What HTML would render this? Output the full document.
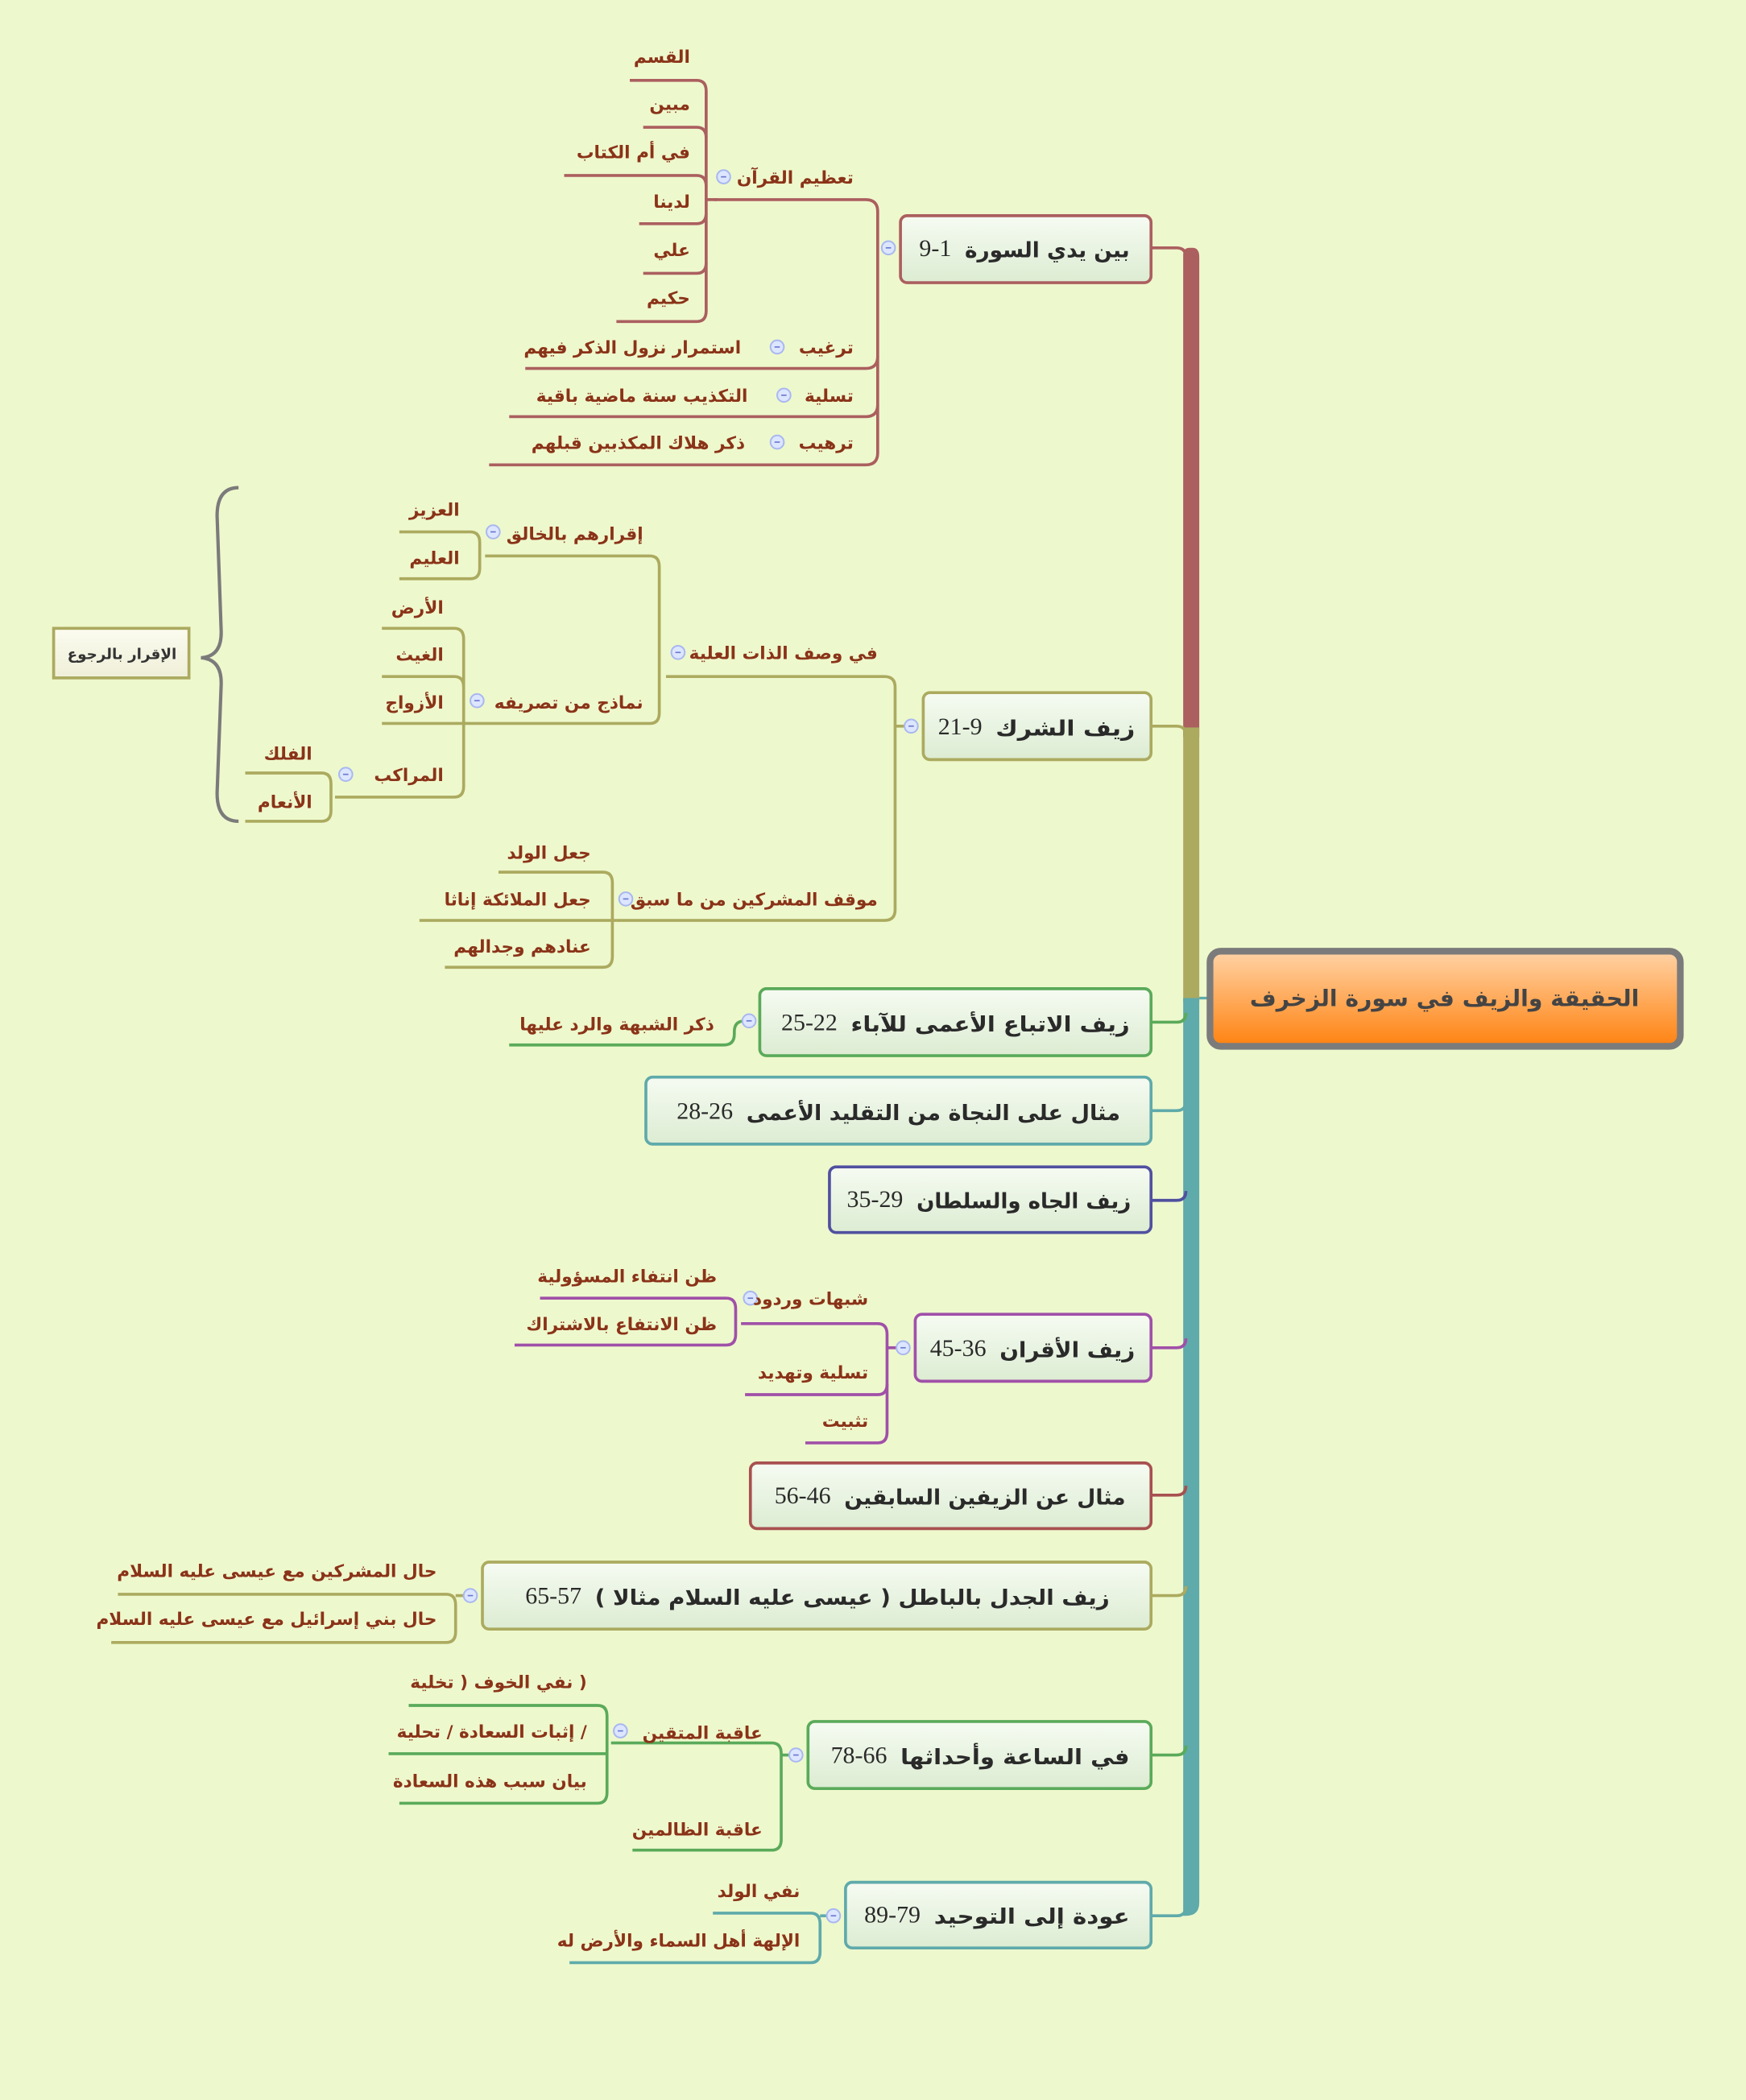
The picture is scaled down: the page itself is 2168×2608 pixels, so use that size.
<!DOCTYPE html>
<html><head><meta charset="utf-8">
<style>
html,body{margin:0;padding:0;background:#eef8cd;}
svg{display:block;}
.s{font-family:"DejaVu Sans","Liberation Sans",sans-serif;font-weight:bold;font-size:13px;fill:#8a3318;}
.m{font-family:"DejaVu Sans","Liberation Sans",sans-serif;font-weight:bold;font-size:16px;fill:#2a2a2a;}
.n{font-family:"Liberation Serif",serif;font-size:18px;fill:#2a2a2a;}
.c{fill:#dde6ff;stroke:#a8b8f0;stroke-width:1.2;}
</style></head>
<body>
<svg width="2168" height="2608" viewBox="0 0 1303 1567.5" xmlns="http://www.w3.org/2000/svg">
<defs>
<linearGradient id="ng" x1="0" y1="0" x2="0" y2="1"><stop offset="0" stop-color="#f6fbf2"/><stop offset="1" stop-color="#dcecd2"/></linearGradient>
<linearGradient id="og" x1="0" y1="0" x2="0" y2="1"><stop offset="0" stop-color="#ffd3a6"/><stop offset="1" stop-color="#ff8210"/></linearGradient>
<linearGradient id="bg2" x1="0" y1="0" x2="0" y2="1"><stop offset="0" stop-color="#fbfbf0"/><stop offset="1" stop-color="#efefd8"/></linearGradient>
</defs>
<rect width="1303" height="1568" fill="#eef8cd"/>

<!-- trunk -->
<path d="M883,190 Q883,185 888,185 L890,185 Q895,185 895,192 L895,550 L883,550 Z" fill="#ab5f5f"/>
<rect x="883" y="543" width="12" height="205" fill="#abaa5f"/>
<path d="M883,745 L895,745 L895,1420 Q895,1430 885,1430 L883,1430 Z" fill="#5faaaa"/>
<line x1="895" y1="745" x2="903" y2="745" stroke="#5faaaa" stroke-width="2"/>
<g fill="none" stroke-width="2.2">
<path d="M859,185 H878 Q885,185 885,192" stroke="#ab5f5f"/>
<path d="M859,542 H878 Q885,542 885,549" stroke="#abaa5f"/>
<path d="M859,763 H878 Q885,763 885,756" stroke="#5aaa5a"/>
<path d="M859,829 H878 Q885,829 885,822" stroke="#5faaaa"/>
<path d="M859,896 H878 Q885,896 885,889" stroke="#5050a0"/>
<path d="M859,1006 H878 Q885,1006 885,999" stroke="#a050a8"/>
<path d="M859,1116 H878 Q885,1116 885,1109" stroke="#a85050"/>
<path d="M859,1191 H878 Q885,1191 885,1184" stroke="#abaa5f"/>
<path d="M859,1310 H878 Q885,1310 885,1303" stroke="#5aaa5a"/>
<path d="M859,1430 H878 Q885,1430 885,1423" stroke="#5faaaa"/>
</g>

<!-- central -->
<rect x="903" y="710" width="351" height="71" rx="8" fill="url(#og)" stroke="#7b7b7b" stroke-width="5"/>
<text x="1078" y="751" text-anchor="middle" class="m" style="font-size:17px;fill:#444" direction="rtl">الحقيقة والزيف في سورة الزخرف</text>

<!-- main nodes -->
<g stroke-width="2.2">
<rect x="672" y="161" width="187" height="50" rx="5" fill="url(#ng)" stroke="#ab5f5f"/>
<rect x="689" y="517" width="170" height="50" rx="5" fill="url(#ng)" stroke="#abaa5f"/>
<rect x="567" y="738" width="292" height="50" rx="5" fill="url(#ng)" stroke="#5aaa5a"/>
<rect x="482" y="804" width="377" height="50" rx="5" fill="url(#ng)" stroke="#5faaaa"/>
<rect x="619" y="871" width="240" height="49" rx="5" fill="url(#ng)" stroke="#5050a0"/>
<rect x="683" y="981" width="176" height="50" rx="5" fill="url(#ng)" stroke="#a050a8"/>
<rect x="560" y="1092" width="299" height="49" rx="5" fill="url(#ng)" stroke="#a85050"/>
<rect x="360" y="1166" width="499" height="50" rx="5" fill="url(#ng)" stroke="#abaa5f"/>
<rect x="603" y="1285" width="256" height="50" rx="5" fill="url(#ng)" stroke="#5aaa5a"/>
<rect x="631" y="1405" width="228" height="49" rx="5" fill="url(#ng)" stroke="#5faaaa"/>
</g>
<g direction="rtl" text-anchor="start">
<text x="843" y="192" class="m" textLength="123" lengthAdjust="spacingAndGlyphs">بين يدي السورة</text>
<text x="847" y="549" class="m" textLength="104" lengthAdjust="spacingAndGlyphs">زيف الشرك</text>
<text x="843" y="770" class="m" textLength="208" lengthAdjust="spacingAndGlyphs">زيف الاتباع الأعمى للآباء</text>
<text x="836" y="836" class="m" textLength="279" lengthAdjust="spacingAndGlyphs">مثال على النجاة من التقليد الأعمى</text>
<text x="844" y="902" class="m" textLength="160" lengthAdjust="spacingAndGlyphs">زيف الجاه والسلطان</text>
<text x="847" y="1013" class="m" textLength="101" lengthAdjust="spacingAndGlyphs">زيف الأقران</text>
<text x="840" y="1123" class="m" textLength="210" lengthAdjust="spacingAndGlyphs">مثال عن الزيفين السابقين</text>
<text x="828" y="1198" class="m" textLength="384" lengthAdjust="spacingAndGlyphs">زيف الجدل بالباطل ( عيسى عليه السلام مثالا )</text>
<text x="843" y="1317" class="m" textLength="171" lengthAdjust="spacingAndGlyphs">في الساعة وأحداثها</text>
<text x="843" y="1436" class="m" textLength="146" lengthAdjust="spacingAndGlyphs">عودة إلى التوحيد</text>
</g>
<g direction="ltr" text-anchor="start" class="n">
<text x="686" y="191">9-1</text>
<text x="700" y="548">21-9</text>
<text x="583" y="769">25-22</text>
<text x="505" y="835">28-26</text>
<text x="632" y="901">35-29</text>
<text x="694" y="1012">45-36</text>
<text x="578" y="1122">56-46</text>
<text x="392" y="1197">65-57</text>
<text x="620" y="1316">78-66</text>
<text x="645" y="1435">89-79</text>
</g>

<!-- connector lines -->
<g fill="none" stroke-width="2.2">
<g stroke="#ab5f5f">
<path d="M663,185 H658"/>
<path d="M533,149 H646 Q655,149 655,158 V338 Q655,347 646,347 H365"/>
<path d="M392,275 H646 Q655,275 655,266"/>
<path d="M380,311 H646 Q655,311 655,302"/>
<path d="M470,60 H520 Q527,60 527,68 V232 Q527,240 520,240 H460"/>
<path d="M480,95 H520 Q527,95 527,103"/>
<path d="M421,131 H520 Q527,131 527,139"/>
<path d="M477,167 H520 Q527,167 527,159"/>
<path d="M480,204 H520 Q527,204 527,196"/>
<path d="M527,149 H535"/>
</g>
<g stroke="#abaa5f">
<path d="M497,505 H660 Q668,505 668,513 V679 Q668,687 660,687 H460"/>
<path d="M668,542 H678"/>
<path d="M362,415 H485 Q492,415 492,423 V532 Q492,540 485,540 H285"/>
<path d="M298,397 H351 Q358,397 358,405 V424 Q358,432 351,432 H298"/>
<path d="M285,469 H339 Q346,469 346,477 V587 Q346,595 339,595 H250"/>
<path d="M285,505 H339 Q346,505 346,513"/>
<path d="M183,577 H240 Q247,577 247,585 V605 Q247,613 240,613 H183"/>
<path d="M372,651 H450 Q457,651 457,659 V714 Q457,722 450,722 H332"/>
<path d="M313,687 H460"/>
</g>
<path d="M380,780 H540 Q548,780 548,772 V770 Q548,762 556,762" stroke="#5aaa5a"/>
<g stroke="#a050a8">
<path d="M553,988 H655 Q662,988 662,996 V1069 Q662,1077 655,1077 H601"/>
<path d="M556,1041 H655 Q662,1041 662,1033"/>
<path d="M662,1006 H671"/>
<path d="M403,969 H542 Q549,969 549,977 V996 Q549,1004 542,1004 H384"/>
</g>
<path d="M88,1190 H333 Q340,1190 340,1198 V1218 Q340,1226 333,1226 H83" stroke="#abaa5f"/>
<path d="M340,1191 H348" stroke="#abaa5f"/>
<g stroke="#5aaa5a">
<path d="M456,1301 H576 Q583,1301 583,1309 V1373 Q583,1381 576,1381 H472"/>
<path d="M583,1310 H591"/>
<path d="M305,1273 H446 Q453,1273 453,1281 V1338 Q453,1346 446,1346 H298"/>
<path d="M290,1309 H453"/>
</g>
<g stroke="#5faaaa">
<path d="M532,1428 H605 Q612,1428 612,1436 V1457 Q612,1465 605,1465 H425"/>
<path d="M612,1430 H620"/>
</g>
</g>

<!-- collapse circles -->
<g>
<circle class="c" cx="663" cy="185" r="5"/>
<circle class="c" cx="540" cy="132" r="5"/>
<circle class="c" cx="580" cy="259" r="5"/>
<circle class="c" cx="585" cy="295" r="5"/>
<circle class="c" cx="580" cy="330" r="5"/>
<circle class="c" cx="680" cy="542" r="5"/>
<circle class="c" cx="506" cy="487" r="5"/>
<circle class="c" cx="368" cy="397" r="5"/>
<circle class="c" cx="356" cy="523" r="5"/>
<circle class="c" cx="258" cy="578" r="5"/>
<circle class="c" cx="467" cy="671" r="5"/>
<circle class="c" cx="559" cy="762" r="5"/>
<circle class="c" cx="674" cy="1006" r="5"/>
<circle class="c" cx="560" cy="969" r="5"/>
<circle class="c" cx="351" cy="1191" r="5"/>
<circle class="c" cx="594" cy="1310" r="5"/>
<circle class="c" cx="463" cy="1292" r="5"/>
<circle class="c" cx="622" cy="1430" r="5"/>
</g>
<g stroke="#6a7ad0" stroke-width="1">
<line x1="661" y1="185" x2="665" y2="185"/><line x1="538" y1="132" x2="542" y2="132"/>
<line x1="578" y1="259" x2="582" y2="259"/><line x1="583" y1="295" x2="587" y2="295"/>
<line x1="578" y1="330" x2="582" y2="330"/><line x1="678" y1="542" x2="682" y2="542"/>
<line x1="504" y1="487" x2="508" y2="487"/><line x1="366" y1="397" x2="370" y2="397"/>
<line x1="354" y1="523" x2="358" y2="523"/><line x1="256" y1="578" x2="260" y2="578"/>
<line x1="465" y1="671" x2="469" y2="671"/><line x1="557" y1="762" x2="561" y2="762"/>
<line x1="672" y1="1006" x2="676" y2="1006"/><line x1="558" y1="969" x2="562" y2="969"/>
<line x1="349" y1="1191" x2="353" y2="1191"/><line x1="592" y1="1310" x2="596" y2="1310"/>
<line x1="461" y1="1292" x2="465" y2="1292"/><line x1="620" y1="1430" x2="624" y2="1430"/>
</g>

<!-- sub labels -->
<g class="s" direction="rtl" text-anchor="start">
<text x="637" y="137">تعظيم القرآن</text>
<text x="515" y="47">القسم</text>
<text x="515" y="82">مبين</text>
<text x="515" y="118">في أم الكتاب</text>
<text x="515" y="155">لدينا</text>
<text x="515" y="191">علي</text>
<text x="515" y="227">حكيم</text>
<text x="637" y="264">ترغيب</text>
<text x="553" y="264">استمرار نزول الذكر فيهم</text>
<text x="637" y="300">تسلية</text>
<text x="558" y="300">التكذيب سنة ماضية باقية</text>
<text x="637" y="335">ترهيب</text>
<text x="556" y="335">ذكر هلاك المكذبين قبلهم</text>

<text x="655" y="492">في وصف الذات العلية</text>
<text x="480" y="403">إقرارهم بالخالق</text>
<text x="343" y="385">العزيز</text>
<text x="343" y="421">العليم</text>
<text x="480" y="529">نماذج من تصريفه</text>
<text x="331" y="458">الأرض</text>
<text x="331" y="493">الغيث</text>
<text x="331" y="529">الأزواج</text>
<text x="331" y="583">المراكب</text>
<text x="233" y="567">الفلك</text>
<text x="233" y="603">الأنعام</text>
<text x="655" y="676">موقف المشركين من ما سبق</text>
<text x="441" y="641">جعل الولد</text>
<text x="441" y="676">جعل الملائكة إناثا</text>
<text x="441" y="711">عنادهم وجدالهم</text>

<text x="533" y="769">ذكر الشبهة والرد عليها</text>

<text x="648" y="974">شبهات وردود</text>
<text x="535" y="957">ظن انتفاء المسؤولية</text>
<text x="535" y="993">ظن الانتفاع بالاشتراك</text>
<text x="648" y="1029">تسلية وتهديد</text>
<text x="648" y="1065">تثبيت</text>

<text x="326" y="1177">حال المشركين مع عيسى عليه السلام</text>
<text x="326" y="1213">حال بني إسرائيل مع عيسى عليه السلام</text>

<text x="569" y="1298">عاقبة المتقين</text>
<text x="438" y="1260">( نفي الخوف ( تخلية</text>
<text x="438" y="1297">/ إثبات السعادة / تحلية</text>
<text x="438" y="1334">بيان سبب هذه السعادة</text>
<text x="569" y="1370">عاقبة الظالمين</text>

<text x="597" y="1416">نفي الولد</text>
<text x="597" y="1453">الإلهة أهل السماء والأرض له</text>
</g>

<!-- brace + summary -->
<path d="M178,364 Q162,364 162,385 L165,470 Q166,490 150,491 Q166,492 165,512 L162,592 Q162,613 178,613" fill="none" stroke="#7b7b7b" stroke-width="2.5"/>
<rect x="40" y="469" width="101" height="37" fill="url(#bg2)" stroke="#abaa5f" stroke-width="2.2"/>
<text x="91" y="492" text-anchor="middle" direction="rtl" style="font-family:'DejaVu Sans',sans-serif;font-weight:bold;font-size:11px;fill:#333">الإقرار بالرجوع</text>
</svg>
</body></html>
